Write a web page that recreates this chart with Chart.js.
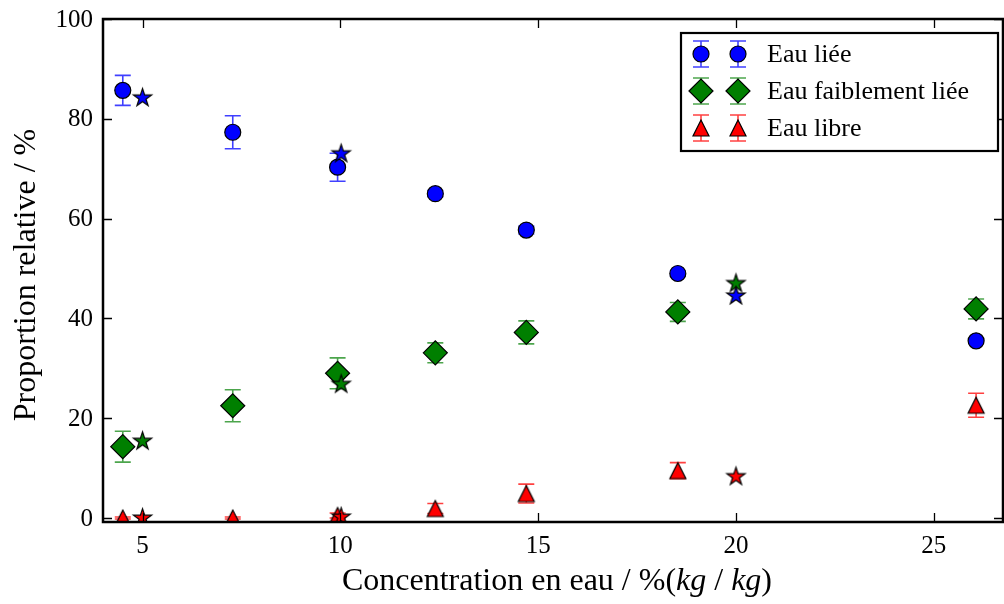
<!DOCTYPE html>
<html>
<head>
<meta charset="utf-8">
<script src="https://cdn.jsdelivr.net/npm/chart.js@4.4.1/dist/chart.umd.min.js"></script>
<style>
  html, body { margin: 0; padding: 0; background: #ffffff; }
  #wrap { width: 1004px; height: 604px; }
</style>
</head>
<body>
<div id="wrap"><canvas id="chart" width="1004" height="604"></canvas></div>
<script>
// Measured water fractions versus water concentration
const concentrations = [4.5, 7.28, 9.93, 12.4, 14.7, 18.53, 26.07];
const eauLiee = [85.7, 77.3, 70.3, 65.0, 57.7, 49.0, 35.5];
const eauLieeErr = [3.0, 3.3, 2.8, 0.6, 0.8, 0.5, 0.3];
const eauFaible = [14.3, 22.5, 29.0, 33.1, 37.2, 41.3, 41.9];
const eauFaibleErr = [3.1, 3.2, 3.1, 2.0, 2.3, 1.9, 2.0];
const eauLibre = [0.0, 0.0, 0.5, 1.9, 4.9, 9.5, 22.6];
const eauLibreErr = [0.2, 0.2, 0.5, 1.0, 1.9, 1.6, 2.4];

// Reference compositions (star markers)
const refConcentrations = [5, 10.02, 20];
const refLiee = [84.3, 73.1, 44.6];
const refFaible = [15.5, 26.9, 47.1];
const refLibre = [0.1, 0.3, 8.4];

const seriesNames = ['Eau liée', 'Eau faiblement liée', 'Eau libre'];
const xTicks = [5, 10, 15, 20, 25];
const yTicks = [0, 20, 40, 60, 80, 100];

const BLUE = '#0000ff', GREEN = '#007f00', RED = '#ff0000';
const BLUE_ERR = 'rgba(0,0,255,0.75)', GREEN_ERR = 'rgba(0,127,0,0.7)', RED_ERR = 'rgba(255,0,0,0.75)';
const SERIF = '"Liberation Serif", "DejaVu Serif", serif';

// Plot box edges in canvas pixels
const AREA = { left: 103, top: 19, right: 1003, bottom: 522 };

function pts(xs, ys) { return xs.map((x, i) => ({ x: x, y: ys[i] })); }

// Marker sprites for shapes Chart.js does not provide as filled glyphs
function triangleSprite(fill, half) {
  const s = half * 2 + 4, c = document.createElement('canvas');
  c.width = s; c.height = s;
  const g = c.getContext('2d'), m = s / 2;
  g.beginPath();
  g.moveTo(m, m - half); g.lineTo(m - half, m + half); g.lineTo(m + half, m + half); g.closePath();
  g.fillStyle = fill; g.fill();
  g.lineWidth = 1.2; g.strokeStyle = '#000'; g.lineJoin = 'miter'; g.stroke();
  return c;
}
function starSprite(fill, outer) {
  const inner = outer * 0.382, s = Math.ceil(outer * 2 + 4), c = document.createElement('canvas');
  c.width = s; c.height = s;
  const g = c.getContext('2d'), m = s / 2;
  g.beginPath();
  for (let k = 0; k < 10; k++) {
    const r = k % 2 === 0 ? outer : inner;
    const a = -Math.PI / 2 + k * Math.PI / 5;
    const px = m + r * Math.cos(a), py = m + 0.6 + r * Math.sin(a);
    if (k === 0) g.moveTo(px, py); else g.lineTo(px, py);
  }
  g.closePath();
  g.fillStyle = fill; g.fill();
  g.lineWidth = 1.2; g.strokeStyle = '#000'; g.lineJoin = 'miter'; g.stroke();
  return c;
}
const redTriangle = triangleSprite(RED, 8);
const starBlue = starSprite(BLUE, 9.5);
const starGreen = starSprite(GREEN, 9.5);
const starRed = starSprite(RED, 9.5);

const markerStyles = [
  { pointStyle: 'circle', radius: 8, fill: BLUE, err: BLUE_ERR },
  { pointStyle: 'rectRot', radius: 12, fill: GREEN, err: GREEN_ERR },
  { pointStyle: redTriangle, radius: 8, fill: RED, err: RED_ERR }
];

// Vertical error bars with caps, drawn beneath the markers
const errorBars = {
  id: 'errorBars',
  beforeDatasetsDraw(chart) {
    const { ctx, chartArea: a, scales: { x, y } } = chart;
    ctx.save();
    ctx.beginPath(); ctx.rect(a.left, a.top, a.right - a.left, a.bottom - a.top); ctx.clip();
    chart.data.datasets.forEach(ds => {
      if (!ds.errors) return;
      ctx.strokeStyle = ds.errorColor; ctx.lineWidth = 1.6;
      ds.data.forEach((p, j) => {
        const e = ds.errors[j];
        const px = x.getPixelForValue(p.x);
        const t = y.getPixelForValue(p.y + e), b = y.getPixelForValue(p.y - e);
        ctx.beginPath();
        ctx.moveTo(px, t); ctx.lineTo(px, b);
        ctx.moveTo(px - 8, t); ctx.lineTo(px + 8, t);
        ctx.moveTo(px - 8, b); ctx.lineTo(px + 8, b);
        ctx.stroke();
      });
    });
    ctx.restore();
  }
};

// Box frame with inward ticks on all four sides, tick labels, axis titles and legend
const frame = {
  id: 'frame',
  afterDatasetsDraw(chart) {
    const { ctx, chartArea: a, scales: { x, y } } = chart;
    ctx.save();
    ctx.strokeStyle = '#000';
    ctx.lineWidth = 1.3;
    ctx.beginPath();
    xTicks.forEach(v => {
      const px = Math.round(x.getPixelForValue(v)) + 0.5;
      ctx.moveTo(px, a.bottom); ctx.lineTo(px, a.bottom - 9);
      ctx.moveTo(px, a.top); ctx.lineTo(px, a.top + 9);
    });
    yTicks.forEach(v => {
      const py = Math.round(y.getPixelForValue(v)) + 0.5;
      ctx.moveTo(a.left, py); ctx.lineTo(a.left + 9, py);
      ctx.moveTo(a.right, py); ctx.lineTo(a.right - 9, py);
    });
    ctx.stroke();
    ctx.lineWidth = 2.5;
    ctx.strokeRect(a.left, a.top, a.right - a.left, a.bottom - a.top);

    // tick labels
    ctx.fillStyle = '#000';
    ctx.font = '25px ' + SERIF;
    ctx.textBaseline = 'middle';
    ctx.textAlign = 'center';
    xTicks.forEach(v => ctx.fillText(String(v), x.getPixelForValue(v), a.bottom + 24));
    ctx.textAlign = 'right';
    yTicks.forEach(v => ctx.fillText(String(v), a.left - 10, y.getPixelForValue(v) + 1));
    ctx.restore();
  },
  afterDraw(chart) {
    const { ctx, data } = chart;
    ctx.save();
    ctx.fillStyle = '#000';
    ctx.textBaseline = 'middle';

    // y title
    ctx.save();
    ctx.translate(27, 275);
    ctx.rotate(-Math.PI / 2);
    ctx.textAlign = 'center';
    ctx.font = '32px ' + SERIF;
    ctx.fillText('Proportion relative / %', 0, 0);
    ctx.restore();

    // x title with italic units
    const parts = [
      ['Concentration en eau / %(', '32px ' + SERIF],
      ['kg', 'italic 32px ' + SERIF],
      [' / ', '32px ' + SERIF],
      ['kg', 'italic 32px ' + SERIF],
      [')', '32px ' + SERIF]
    ];
    let total = 0;
    parts.forEach(p => { ctx.font = p[1]; total += ctx.measureText(p[0]).width; });
    let cx = 557 - total / 2;
    ctx.textAlign = 'left';
    parts.forEach(p => { ctx.font = p[1]; ctx.fillText(p[0], cx, 582); cx += ctx.measureText(p[0]).width; });

    // legend
    const L = 681, T = 33, R = 998, B = 151;
    ctx.fillStyle = '#fff';
    ctx.fillRect(L, T, R - L, B - T);
    ctx.lineWidth = 2.2; ctx.strokeStyle = '#000';
    ctx.strokeRect(L, T, R - L, B - T);
    const rows = [54, 91, 128];
    markerStyles.forEach((m, i) => {
      const ry = rows[i];
      [701, 738].forEach(mx => {
        ctx.strokeStyle = m.err; ctx.lineWidth = 1.6;
        ctx.beginPath();
        ctx.moveTo(mx, ry - 13); ctx.lineTo(mx, ry + 13);
        ctx.moveTo(mx - 8, ry - 13); ctx.lineTo(mx + 8, ry - 13);
        ctx.moveTo(mx - 8, ry + 13); ctx.lineTo(mx + 8, ry + 13);
        ctx.stroke();
        ctx.fillStyle = m.fill; ctx.strokeStyle = '#000'; ctx.lineWidth = 1.2;
        Chart.helpers.drawPoint(ctx, { pointStyle: m.pointStyle, radius: m.radius, borderWidth: 1.2, rotation: 0 }, mx, ry);
      });
      ctx.fillStyle = '#000';
      ctx.font = '26px ' + SERIF;
      ctx.textAlign = 'left';
      ctx.fillText(data.datasets[i].label, 767, ry + 1);
    });
    ctx.restore();
  }
};

const chart = new Chart(document.getElementById('chart'), {
  type: 'scatter',
  data: {
    datasets: [
      { label: seriesNames[0], data: pts(concentrations, eauLiee), errors: eauLieeErr, errorColor: BLUE_ERR,
        pointStyle: 'circle', pointRadius: 8, backgroundColor: BLUE, borderColor: '#000', borderWidth: 1.2, order: 6 },
      { label: seriesNames[1], data: pts(concentrations, eauFaible), errors: eauFaibleErr, errorColor: GREEN_ERR,
        pointStyle: 'rectRot', pointRadius: 12, backgroundColor: GREEN, borderColor: '#000', borderWidth: 1.2, order: 5 },
      { label: seriesNames[2], data: pts(concentrations, eauLibre), errors: eauLibreErr, errorColor: RED_ERR,
        pointStyle: redTriangle, pointRadius: 8, backgroundColor: RED, borderColor: '#000', order: 4 },
      { label: seriesNames[0] + ' (réf.)', data: pts(refConcentrations, refLiee),
        pointStyle: starBlue, pointRadius: 9, order: 1 },
      { label: seriesNames[1] + ' (réf.)', data: pts(refConcentrations, refFaible),
        pointStyle: starGreen, pointRadius: 9, order: 2 },
      { label: seriesNames[2] + ' (réf.)', data: pts(refConcentrations, refLibre),
        pointStyle: starRed, pointRadius: 9, order: 3 }
    ]
  },
  options: {
    responsive: false,
    animation: false,
    devicePixelRatio: 1,
    layout: { autoPadding: false, padding: { top: AREA.top, right: 1004 - AREA.right, left: 0, bottom: 0 } },
    plugins: { legend: { display: false }, tooltip: { enabled: false } },
    scales: {
      x: {
        type: 'linear', min: 4, max: 26.75,
        afterFit(s) { s.height = 604 - AREA.bottom; },
        afterBuildTicks(s) { s.ticks = xTicks.map(v => ({ value: v })); },
        grid: { display: false, drawTicks: false },
        border: { display: false },
        ticks: { display: false }
      },
      y: {
        type: 'linear', min: -0.8, max: 100,
        afterFit(s) { s.width = AREA.left; },
        afterBuildTicks(s) { s.ticks = yTicks.map(v => ({ value: v })); },
        grid: { display: false, drawTicks: false },
        border: { display: false },
        ticks: { display: false }
      }
    }
  },
  plugins: [errorBars, frame]
});
</script>
</body>
</html>
